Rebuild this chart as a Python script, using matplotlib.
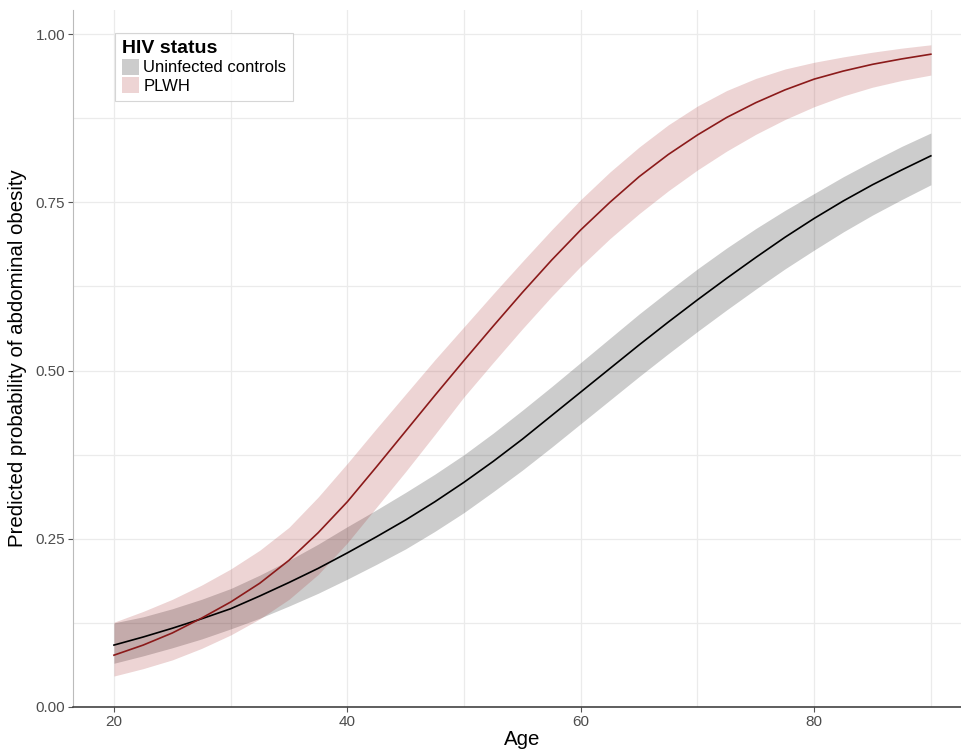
import matplotlib
matplotlib.use("Agg")
import matplotlib.pyplot as plt
from matplotlib.patches import Patch
from matplotlib.ticker import MultipleLocator

plt.rcParams['font.family'] = ['Liberation Sans', 'DejaVu Sans']

age = [20, 22.5, 25, 27.5, 30, 32.5, 35, 37.5, 40, 42.5, 45, 47.5, 50, 52.5, 55,
       57.5, 60, 62.5, 65, 67.5, 70, 72.5, 75, 77.5, 80, 82.5, 85, 87.5, 90]

ctrl_fit = [0.092, 0.104, 0.117, 0.131, 0.146, 0.165, 0.185, 0.206, 0.229, 0.253, 0.278,
            0.305, 0.334, 0.365, 0.398, 0.433, 0.468, 0.503, 0.538, 0.572, 0.605, 0.637,
            0.668, 0.698, 0.726, 0.752, 0.776, 0.798, 0.819]
ctrl_lo = [0.065, 0.076, 0.088, 0.101, 0.116, 0.132, 0.150, 0.169, 0.190, 0.212, 0.235,
           0.261, 0.289, 0.320, 0.352, 0.386, 0.421, 0.456, 0.491, 0.525, 0.558, 0.590,
           0.621, 0.651, 0.679, 0.706, 0.731, 0.754, 0.776]
ctrl_hi = [0.125, 0.134, 0.146, 0.160, 0.176, 0.196, 0.218, 0.242, 0.268, 0.293, 0.319,
           0.346, 0.375, 0.407, 0.441, 0.476, 0.512, 0.548, 0.584, 0.618, 0.651, 0.682,
           0.711, 0.738, 0.763, 0.788, 0.811, 0.833, 0.853]

plwh_fit = [0.077, 0.092, 0.110, 0.132, 0.156, 0.184, 0.218, 0.259, 0.305, 0.357, 0.410,
            0.463, 0.515, 0.566, 0.616, 0.664, 0.709, 0.750, 0.788, 0.821, 0.850, 0.876,
            0.898, 0.917, 0.933, 0.945, 0.955, 0.963, 0.970]
plwh_lo = [0.046, 0.057, 0.070, 0.087, 0.107, 0.131, 0.160, 0.197, 0.244, 0.297, 0.350,
           0.405, 0.461, 0.512, 0.562, 0.610, 0.655, 0.696, 0.733, 0.767, 0.798, 0.826,
           0.851, 0.873, 0.892, 0.908, 0.921, 0.931, 0.939]
plwh_hi = [0.126, 0.142, 0.160, 0.181, 0.205, 0.233, 0.267, 0.312, 0.362, 0.414, 0.465,
           0.516, 0.565, 0.614, 0.662, 0.709, 0.754, 0.795, 0.832, 0.865, 0.893, 0.916,
           0.934, 0.948, 0.958, 0.966, 0.973, 0.979, 0.984]

x_ticks = [20, 40, 60, 80]
y_ticks = [0.00, 0.25, 0.50, 0.75, 1.00]
y_tick_labels = ["0.00", "0.25", "0.50", "0.75", "1.00"]
legend_title = "HIV status"
legend_labels = ["Uninfected controls", "PLWH"]

W, H = 962, 750
fig = plt.figure(figsize=(W / 100, H / 100), dpi=100)
ax = fig.add_axes([73 / W, 43 / H, (971 - 73) / W, (707 - 10) / H])

grid_c = '#ebebeb'
ax.set_xlim(16.49, 93.44)
ax.set_ylim(0, 1.0357)
ax.set_xticks(x_ticks)
ax.xaxis.set_minor_locator(MultipleLocator(10))
ax.set_yticks(y_ticks)
ax.set_yticklabels(y_tick_labels)
ax.yaxis.set_minor_locator(MultipleLocator(0.125))
ax.grid(True, which='both', color=grid_c, linewidth=0.9)
ax.set_axisbelow(True)
ax.tick_params(which='minor', length=0)
ax.tick_params(which='major', length=3.5, width=0.8, color='#555555',
               labelsize=11, labelcolor='#4d4d4d', pad=2)

for s in ['top', 'right']:
    ax.spines[s].set_visible(False)
ax.spines['left'].set_color('#bbbbbb')
ax.spines['left'].set_linewidth(0.8)
ax.spines['bottom'].set_color('#333333')
ax.spines['bottom'].set_linewidth(1.1)

gray_c = (0, 0, 0, 0.2)
red_c = (0.65, 0.16, 0.16, 0.2)
ax.fill_between(age, ctrl_lo, ctrl_hi, color=gray_c, linewidth=0)
ax.fill_between(age, plwh_lo, plwh_hi, color=red_c, linewidth=0)
ax.plot(age, ctrl_fit, color='black', linewidth=1.2)
ax.plot(age, plwh_fit, color='#8b1a1a', linewidth=1.2)

ax.set_xlabel("Age", fontsize=14.7, labelpad=1)
ax.set_ylabel("Predicted probability of abdominal obesity", fontsize=14.7, labelpad=6)

handles = [Patch(facecolor=gray_c, edgecolor='none'), Patch(facecolor=red_c, edgecolor='none')]
leg = ax.legend(handles, legend_labels, title=legend_title, loc='upper left',
                bbox_to_anchor=((115 - 73) / (971 - 73), (707 - 33) / (707 - 10)),
                fontsize=12, title_fontsize=14, frameon=True, fancybox=False,
                edgecolor='#cccccc', borderpad=0.4, labelspacing=0.12,
                handlelength=1.05, handleheight=1.1, handletextpad=0.25, borderaxespad=0)
leg.get_title().set_fontweight('bold')
leg._legend_box.align = 'left'
leg.get_frame().set_linewidth(0.8)

fig.savefig("out.png", dpi=100)
